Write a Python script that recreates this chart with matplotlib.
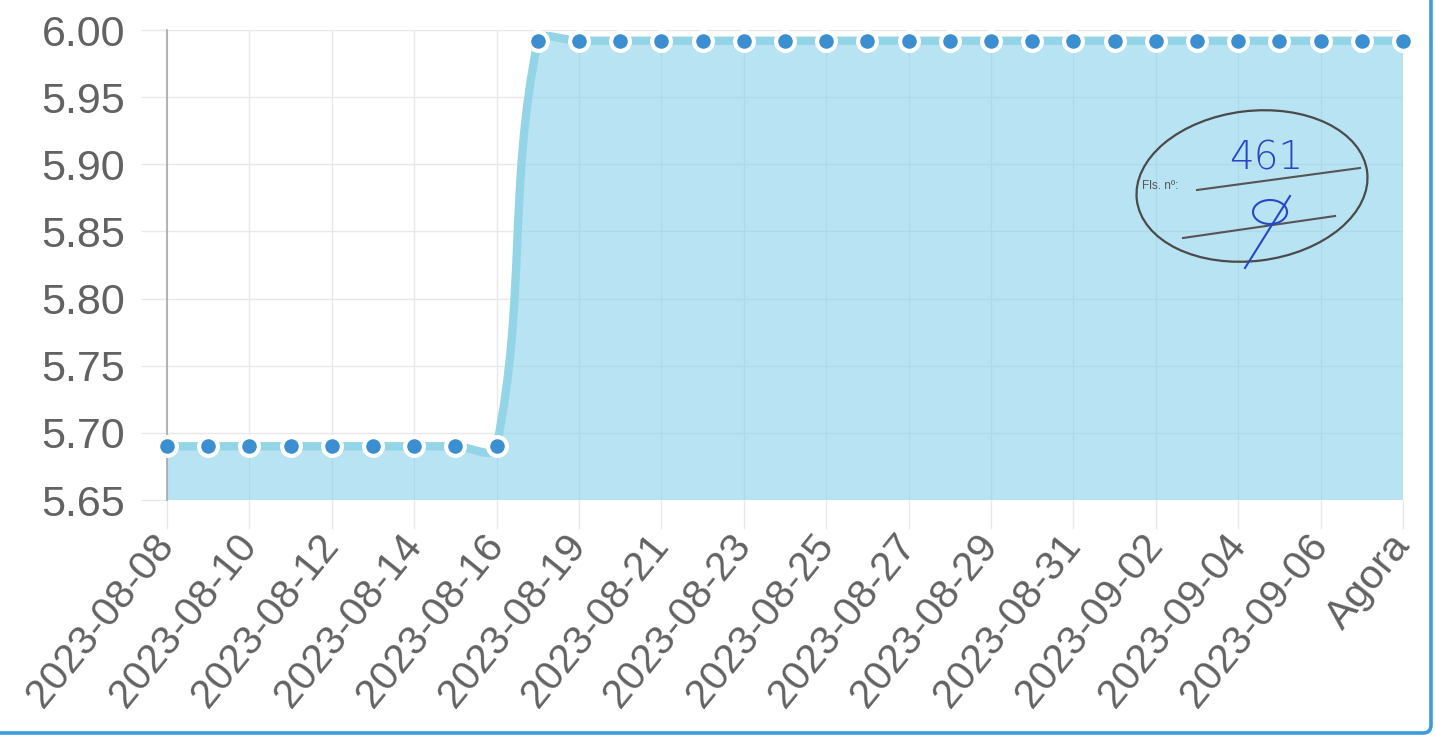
import numpy as np
import matplotlib.pyplot as plt
from matplotlib.path import Path
from matplotlib.patches import PathPatch, Ellipse, FancyBboxPatch
from matplotlib.lines import Line2D

plt.rcParams['font.family'] = ['Liberation Sans', 'DejaVu Sans']

# daily readings, last point is the current value
dates = ['2023-08-08', '2023-08-09', '2023-08-10', '2023-08-11', '2023-08-12',
         '2023-08-13', '2023-08-14', '2023-08-15', '2023-08-16', '2023-08-17',
         '2023-08-19', '2023-08-20', '2023-08-21', '2023-08-22', '2023-08-23',
         '2023-08-24', '2023-08-25', '2023-08-26', '2023-08-27', '2023-08-28',
         '2023-08-29', '2023-08-30', '2023-08-31', '2023-09-01', '2023-09-02',
         '2023-09-03', '2023-09-04', '2023-09-05', '2023-09-06', '2023-09-07',
         'Agora']
values = [5.69, 5.69, 5.69, 5.69, 5.69, 5.69, 5.69, 5.69, 5.69,
          5.992, 5.992, 5.992, 5.992, 5.992, 5.992, 5.992, 5.992, 5.992,
          5.992, 5.992, 5.992, 5.992, 5.992, 5.992, 5.992, 5.992, 5.992,
          5.992, 5.992, 5.992, 5.992]
y_ticks = [5.65, 5.70, 5.75, 5.80, 5.85, 5.90, 5.95, 6.00]

W, H = 1435, 737
GRID = '#e8e8e8'
FILL = '#7fcdea'
LINE = '#93d5e6'
DOT = '#3b8fd0'
TEXT = '#626262'

fig = plt.figure(figsize=(W / 100, H / 100), dpi=100)
ax = fig.add_axes([167 / W, 1 - 500 / H, (1403 - 167) / W, 470 / H])

x = np.arange(len(values))
y = np.array(values)
ax.set_xlim(0, len(values) - 1)
ax.set_ylim(y_ticks[0], y_ticks[-1])

ax.set_yticks(y_ticks)
ax.set_yticklabels(['%.2f' % v for v in y_ticks])
ax.set_xticks(x[::2])
ax.set_xticklabels(dates[::2], rotation=51, ha='right', va='center',
                   rotation_mode='anchor')
ax.tick_params(axis='y', length=19, width=1, color=GRID, pad=11,
               labelsize=31, labelcolor=TEXT)
ax.tick_params(axis='x', length=21, width=1, color=GRID, pad=7,
               labelsize=29.5, labelcolor=TEXT)
ax.grid(True, color=GRID, lw=1)
ax.set_axisbelow(True)
for s in ['top', 'right', 'bottom']:
    ax.spines[s].set_visible(False)
ax.spines['left'].set_color('#a8a8a8')
ax.spines['left'].set_linewidth(1.2)

# chart.js style spline (tension 0.4) computed in pixel space
pts = ax.transData.transform(np.column_stack([x, y]))
bb = ax.bbox
tension = 0.4
cps = []
n = len(pts)
for i in range(n):
    prev = pts[i - 1] if i > 0 else pts[i]
    cur = pts[i]
    nxt = pts[i + 1] if i < n - 1 else pts[i]
    d01 = np.hypot(*(cur - prev))
    d12 = np.hypot(*(nxt - cur))
    tot = d01 + d12
    fa = tension * d01 / tot if tot else 0
    fb = tension * d12 / tot if tot else 0
    c1 = cur - fa * (nxt - prev)
    c2 = cur + fb * (nxt - prev)
    c1 = np.clip(c1, [bb.x0, bb.y0], [bb.x1, bb.y1])
    c2 = np.clip(c2, [bb.x0, bb.y0], [bb.x1, bb.y1])
    cps.append((c1, c2))

verts = [pts[0]]
codes = [Path.MOVETO]
for i in range(n - 1):
    verts += [cps[i][1], cps[i + 1][0], pts[i + 1]]
    codes += [Path.CURVE4] * 3
inv = ax.transData.inverted()
curve = inv.transform(np.array(verts))

area = np.vstack([curve, [[x[-1], y_ticks[0]], [x[0], y_ticks[0]], [x[0], y[0]]]])
area_codes = codes + [Path.LINETO, Path.LINETO, Path.CLOSEPOLY]
ax.add_patch(PathPatch(Path(area, area_codes), facecolor=FILL, alpha=0.55,
                       edgecolor='none', zorder=1))
ax.add_patch(PathPatch(Path(curve, codes), facecolor='none', edgecolor=LINE,
                       lw=6, zorder=2, capstyle='butt'))
ax.plot(x, y, 'o', color=DOT, ms=13.5, mec='white', mew=3, zorder=3,
        clip_on=False)

# stamp on the page, positioned in pixels from the top-left corner
def inch(px, py):
    return (px / 100, (H - py) / 100)

st = fig.dpi_scale_trans
fig.patches.append(Ellipse(inch(1252, 186), 2.32, 1.50, angle=7, fill=False,
                           edgecolor='#4a4a4a', lw=1.6, transform=st))
for (a, b) in [((1197, 190), (1360, 168)), ((1183, 238), (1335, 216))]:
    p, q = inch(*a), inch(*b)
    fig.lines.append(Line2D([p[0], q[0]], [p[1], q[1]], color='#555555',
                            lw=1.5, transform=st))
fig.text(*inch(1142, 186), 'Fls. nº:', transform=st, fontsize=8.5,
         color='#555555', va='center', ha='left')
fig.text(*inch(1266, 158), '461', transform=st, fontsize=28, color='#2747c8',
         va='center', ha='center', family='DejaVu Sans', fontweight='light')
t = np.linspace(0, 2 * np.pi, 60)
sx, sy = inch(1270, 212)
fig.lines.append(Line2D(sx + 0.17 * np.cos(t), sy + 0.12 * np.sin(t),
                        color='#2747c8', lw=1.5, transform=st))
p, q = inch(1290, 196), inch(1245, 268)
fig.lines.append(Line2D([p[0], q[0]], [p[1], q[1]], color='#2747c8', lw=1.5,
                        transform=st))

# page frame
fig.patches.append(FancyBboxPatch(inch(-40, 733), (1431 + 40) / 100,
                                  (733 + 40) / 100,
                                  boxstyle='round,pad=0,rounding_size=0.08',
                                  fill=False, edgecolor='#3c9be0', lw=2.6,
                                  transform=st))

fig.savefig('out.png', dpi=100)
